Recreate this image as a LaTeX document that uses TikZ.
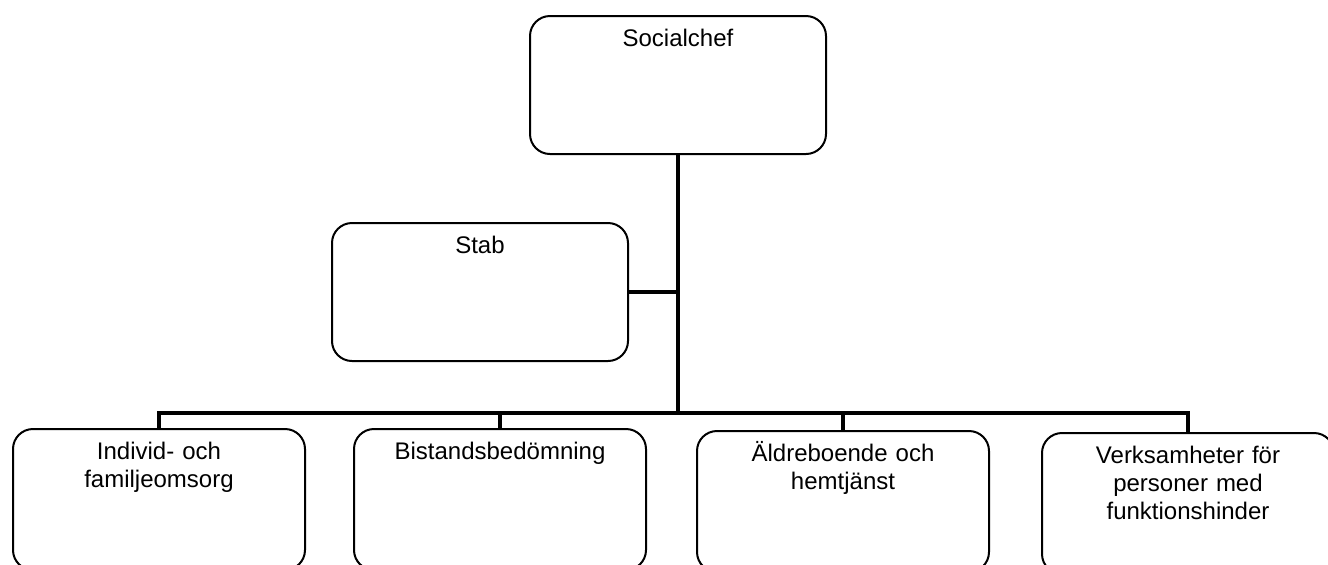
\documentclass[tikz,border=0pt]{standalone}
\usepackage{fontspec}
\setmainfont{Liberation Sans}

\begin{document}
\begin{tikzpicture}[x=0.5pt, y=-0.5pt,
	every node/.style={draw=black, line width=1pt, rounded corners=10pt, anchor=north, inner sep=0pt, align=center, text height=15pt, font=\fontsize{12}{14}\selectfont},
	topbox/.style={text width=148pt, text depth=54pt},
	lowbox/.style={text width=146pt, text depth=55.5pt},
	every path/.style={draw=black, line width=2.4pt}]
			\useasboundingbox[draw=none] (0,0) rectangle (1328,564);
			\node[topbox] (chef) at (678,15){Socialchef};
			\node[topbox] (stab) at (480,222){Stab};
			\node[lowbox] (ifo) at (159,428){Individ- och\\familjeomsorg};
			\node[lowbox] (bist) at (500,428){Bistandsbedömning};
			\node[lowbox] (aldre) at (843,430){Äldreboende och\\hemtjänst};
			\node[lowbox] (funk) at (1188,432){Verksamheter för\\personer med\\funktionshinder};
			\coordinate (bus) at (chef.south |- 0,413);
			
			\path (chef.south) -- (bus);
			\path (stab.east) -- (stab.east -| bus);
			\path (bus) -| (ifo.north);
			\path (bus) -| (bist.north);
			\path (bus) -| (aldre.north);
			\path (bus) -| (funk.north);
			\end{tikzpicture}
\end{document}
